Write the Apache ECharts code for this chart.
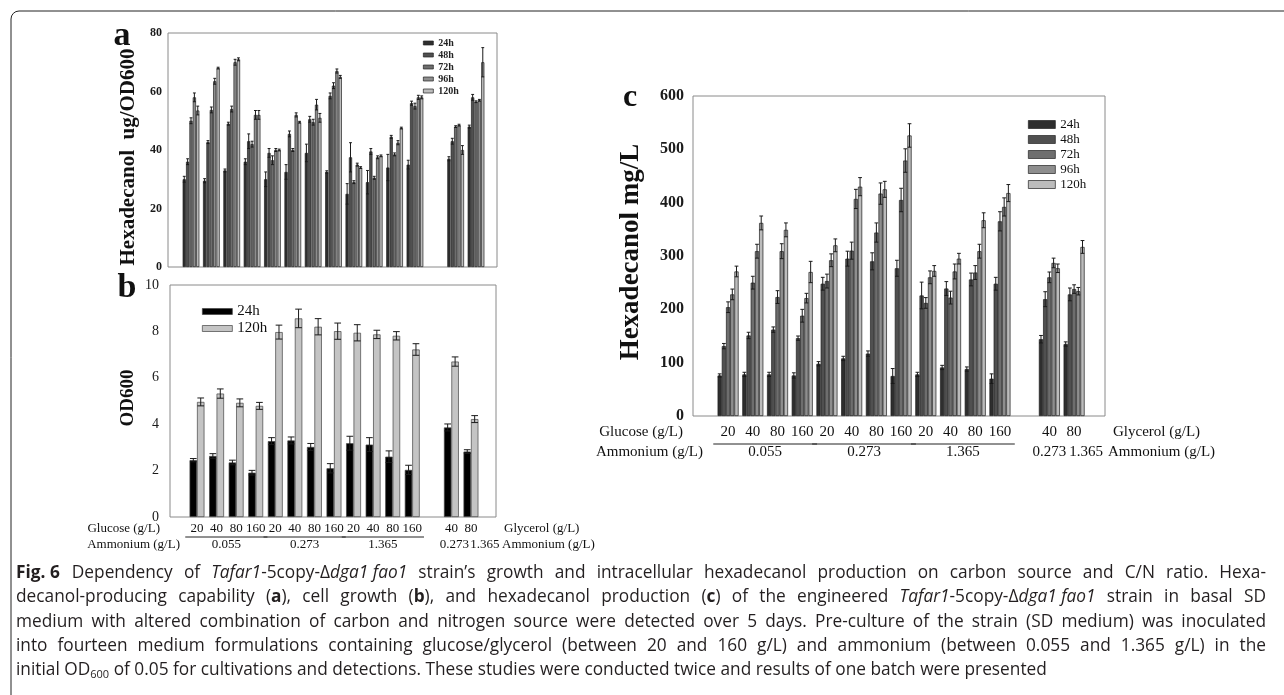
<!DOCTYPE html>
<html>
<head>
<meta charset="utf-8">
<script src="https://cdn.jsdelivr.net/npm/echarts@6/dist/echarts.min.js"></script>
<style>
  html, body { margin: 0; padding: 0; background: #fff; }
  #chart { width: 1284px; height: 695px; }
</style>
</head>
<body>
<div id="chart"></div>
<script>
// 15 slots on the x axis: 12 glucose media, an empty slot, 2 glycerol media
const glucoseLabels = ['20', '40', '80', '160', '20', '40', '80', '160', '20', '40', '80', '160', '', '40', '80']
const ammoniumLabels = ['0.055', '0.273', '1.365', '0.273', '1.365']
const ammoniumSpans = [[0, 3], [4, 7], [8, 11], [13, 13], [14, 14]]
const hours = ['24h', '48h', '72h', '96h', '120h']

// a: hexadecanol ug/OD600
const ugOD_24 = [30, 29.5, 33, 36, 30, 32.5, 39, 32.5, 25, 29, 34, 35, null, 37, 48]
const ugOD_48 = [36, 42.7, 49, 43, 39, 45.5, 50.5, 58.5, 37.5, 39.5, 44.5, 56, null, 43, 58]
const ugOD_72 = [50, 53.7, 54, 42, 36.5, 40, 49.5, 62, 29, 30.5, 38.5, 55, null, 48, 56.5]
const ugOD_96 = [58, 63.5, 70, 52, 40, 52, 55.5, 67, 35, 37.5, 42.5, 58, null, 48.5, 57]
const ugOD_120 = [53.5, 68, 71, 52, 40, 49.5, 51, 65, 34, 38, 47.5, 58, null, 40, 70]
const ugOD_24_err = [1, 0.7, 0.5, 1, 2.5, 2.5, 3, 0.4, 3.5, 4, 4.5, 1.5, null, 0.7, 0.5]
const ugOD_48_err = [1, 0.5, 0.5, 2.5, 1.5, 1, 1, 1, 5, 1, 0.5, 0.7, null, 1, 1]
const ugOD_72_err = [1, 1, 1, 1, 1.5, 0.5, 1, 1, 0.5, 0.5, 0.5, 1, null, 0.3, 0.3]
const ugOD_96_err = [1.5, 1, 1, 1.5, 0.5, 0.7, 1.8, 0.7, 0.5, 0.5, 0.7, 0.7, null, 0.3, 0.3]
const ugOD_120_err = [1.5, 0.3, 0.5, 1.5, 0.3, 0.3, 1.5, 0.5, 0.3, 0.3, 0.3, 0.5, null, 1.5, 5]

// b: OD600
const od_24 = [2.45, 2.63, 2.35, 1.91, 3.27, 3.3, 3.02, 2.1, 3.18, 3.12, 2.6, 2.03, null, 3.86, 2.82]
const od_120 = [4.96, 5.32, 4.92, 4.79, 7.97, 8.56, 8.2, 8.01, 7.94, 7.87, 7.81, 7.22, null, 6.7, 4.22]
const od_24_err = [0.07, 0.1, 0.1, 0.1, 0.15, 0.15, 0.15, 0.2, 0.3, 0.3, 0.25, 0.2, null, 0.15, 0.08]
const od_120_err = [0.17, 0.2, 0.17, 0.15, 0.3, 0.4, 0.35, 0.35, 0.35, 0.18, 0.18, 0.25, null, 0.2, 0.15]

// c: hexadecanol mg/L
const mgL_24 = [76, 78, 78, 76, 98, 108, 117, 75, 78, 91, 88, 70, null, 144, 135]
const mgL_48 = [131, 151, 162, 146, 248, 295, 290, 277, 226, 239, 256, 248, null, 219, 228]
const mgL_72 = [204, 250, 223, 188, 253, 310, 344, 405, 212, 222, 269, 365, null, 260, 238]
const mgL_96 = [228, 309, 309, 221, 292, 407, 417, 479, 260, 271, 309, 392, null, 287, 234]
const mgL_120 = [271, 362, 349, 270, 320, 430, 425, 526, 272, 295, 367, 418, null, 277, 317]
const mgL_24_err = [3, 4, 4, 5, 4, 4, 5, 14, 4, 4, 4, 9, null, 7, 4]
const mgL_48_err = [5, 6, 5, 4, 12, 14, 16, 15, 25, 13, 12, 12, null, 14, 12]
const mgL_72_err = [10, 12, 12, 12, 13, 16, 18, 22, 10, 12, 13, 18, null, 10, 8]
const mgL_96_err = [10, 13, 14, 9, 12, 18, 20, 22, 12, 14, 13, 17, null, 9, 7]
const mgL_120_err = [10, 13, 13, 20, 12, 17, 15, 22, 10, 10, 14, 16, null, 8, 12]

const serif = 'Liberation Serif'
const grays = ['#2e2e2e', '#505050', '#6e6e6e', '#8e8e8e', '#bcbcbc']

// bars plus symmetric error bars for one panel
const barPanel = (idx, names, values, errors, colors, border, catGap, gap) => {
  const list = []
  const n = values.length
  values.forEach((vals, i) => {
    list.push({
      name: names[i],
      type: 'bar',
      xAxisIndex: idx,
      yAxisIndex: idx,
      barGap: (gap * 100) + '%',
      barCategoryGap: (catGap * 100) + '%',
      itemStyle: { color: colors[i], borderColor: border, borderWidth: 0.7 },
      data: vals.map((v, k) => v == null ? null : [k, v]).filter(Boolean)
    })
    list.push({
      type: 'custom',
      xAxisIndex: idx,
      yAxisIndex: idx,
      z: 5,
      silent: true,
      encode: { x: 0, y: 1 },
      data: vals.map((v, k) => v == null ? null : [k, v, errors[i][k]]).filter(Boolean),
      renderItem: (params, api) => {
        const x = api.value(0)
        const v = api.value(1)
        const e = api.value(2)
        const band = api.size([1, 0])[0]
        const w = band * (1 - catGap) / (n + (n - 1) * gap)
        const total = n * w + (n - 1) * w * gap
        const cx = api.coord([x, v])[0] - total / 2 + i * w * (1 + gap) + w / 2
        const yTop = api.coord([x, v + e])[1]
        const yBot = api.coord([x, v - e])[1]
        const cap = Math.min(w * 0.9, 7) / 2
        const st = { stroke: '#1a1a1a', lineWidth: 1 }
        return {
          type: 'group',
          children: [
            { type: 'line', shape: { x1: cx, y1: yTop, x2: cx, y2: yBot }, style: st },
            { type: 'line', shape: { x1: cx - cap, y1: yTop, x2: cx + cap, y2: yTop }, style: st },
            { type: 'line', shape: { x1: cx - cap, y1: yBot, x2: cx + cap, y2: yBot }, style: st }
          ]
        }
      }
    })
  })
  return list
}

const gridA = { left: 168, top: 33, width: 329, height: 234 }
const gridB = { left: 170, top: 285, width: 326, height: 232 }
const gridC = { left: 693, top: 96, width: 412, height: 320 }

const frame = { show: true, borderColor: '#8a8a8a', borderWidth: 1, outerBoundsMode: 'none' }

const yAxisBase = (idx, max, interval, label) => ({
  gridIndex: idx,
  type: 'value',
  min: 0,
  max: max,
  interval: interval,
  axisLine: { show: false },
  axisTick: { show: false },
  splitLine: { show: false },
  axisLabel: Object.assign({ color: '#1a1a1a', fontFamily: serif }, label)
})

const legendItems = (names, colors, border) =>
  names.map((name, i) => ({ name, icon: 'rect', itemStyle: { color: colors[i], borderColor: border, borderWidth: 0.7 } }))

const option = {
  animation: false,
  backgroundColor: '#fff',
  grid: [
    Object.assign({}, gridA, frame),
    Object.assign({}, gridB, frame),
    Object.assign({}, gridC, frame)
  ],
  xAxis: [
    { gridIndex: 0, type: 'value', min: -1.13, max: 15.03, show: false },
    { gridIndex: 1, type: 'value', min: -1.38, max: 15.28, show: false },
    { gridIndex: 2, type: 'value', min: -1.42, max: 15.25, show: false }
  ],
  yAxis: [
    yAxisBase(0, 80, 20, { fontSize: 12, fontWeight: 'bold', margin: 6 }),
    yAxisBase(1, 10, 2, { fontSize: 14, margin: 11 }),
    yAxisBase(2, 600, 100, { fontSize: 16, fontWeight: 'bold', margin: 9 })
  ],
  legend: [
    {
      orient: 'vertical', left: 423, top: 38, padding: 0,
      itemWidth: 10, itemHeight: 4, itemGap: 2,
      textStyle: { fontFamily: serif, fontSize: 10, fontWeight: 'bold', color: '#222' },
      data: legendItems(hours, grays, '#222')
    },
    {
      orient: 'vertical', left: 202, top: 304, padding: 0,
      itemWidth: 30, itemHeight: 6, itemGap: 2,
      textStyle: { fontFamily: serif, fontSize: 15, color: '#111' },
      data: legendItems(['24h', '120h'], ['#000', '#c4c4c4'], '#444')
    },
    {
      orient: 'vertical', left: 1028, top: 118, padding: 0,
      itemWidth: 27, itemHeight: 8, itemGap: 2,
      textStyle: { fontFamily: serif, fontSize: 13, color: '#111' },
      data: legendItems(hours, grays, '#222')
    }
  ],
  series: [
    ...barPanel(0, hours,
      [ugOD_24, ugOD_48, ugOD_72, ugOD_96, ugOD_120],
      [ugOD_24_err, ugOD_48_err, ugOD_72_err, ugOD_96_err, ugOD_120_err],
      grays, '#222', 0.18, 0.06),
    ...barPanel(1, ['24h', '120h'], [od_24, od_120], [od_24_err, od_120_err],
      ['#000', '#c4c4c4'], '#444', 0.24, 0),
    ...barPanel(2, hours,
      [mgL_24, mgL_48, mgL_72, mgL_96, mgL_120],
      [mgL_24_err, mgL_48_err, mgL_72_err, mgL_96_err, mgL_120_err],
      grays, '#1e1e1e', 0.15, 0)
  ]
}

const chart = echarts.init(document.getElementById('chart'))
chart.setOption(option)

const txt = (text, x, y, size, extra) => ({
  type: 'text',
  x: x,
  y: y,
  silent: true,
  style: Object.assign({
    text: text,
    fill: '#111',
    fontFamily: serif,
    fontSize: size,
    align: 'center',
    verticalAlign: 'middle'
  }, extra || {})
})

// x label rows under panels b and c, placed on the axis scale
const axisLabels = (axisIdx, grid, rows, size, tailShift, rightGap) => {
  const px = v => chart.convertToPixel({ xAxisIndex: axisIdx }, v)
  const slot = px(1) - px(0)
  const right = grid.left + grid.width
  const els = []
  els.push(txt('Glucose (g/L)', grid.left - 10, rows[0], size, { align: 'right' }))
  els.push(txt('Ammonium (g/L)', grid.left + 10, rows[2], size, { align: 'right' }))
  glucoseLabels.forEach((label, k) => {
    if (label) els.push(txt(label, px(k), rows[0], size))
  })
  ammoniumLabels.forEach((label, k) => {
    const [a, b] = ammoniumSpans[k]
    const mid = (px(a) + px(b)) / 2
    if (b > a) {
      els.push(txt(label, mid, rows[2], size))
      els.push({
        type: 'line', silent: true,
        shape: { x1: px(a) - 0.6 * slot, y1: rows[1], x2: px(b) + 0.6 * slot, y2: rows[1] },
        style: { stroke: '#222', lineWidth: 1 }
      })
    } else {
      els.push(txt(label, mid + tailShift[k - 3], rows[2], size))
    }
  })
  els.push(txt('Glycerol (g/L)', right + 8, rows[0], size, { align: 'left' }))
  els.push(txt('Ammonium (g/L)', right + rightGap, rows[2], size, { align: 'left' }))
  return els
}

const bold = { fontWeight: 'bold' }
const vert = Math.PI / 2

// caption, justified to a common right edge like the printed figure
const captionSize = 17.3
const captionFamily = 'Open Sans'
const captionRight = 1266
const ink = '#231f20'
const richBase = {
  b: { fontWeight: 'bold', fontSize: captionSize, fontFamily: captionFamily, fill: ink },
  i: { fontStyle: 'italic', fontSize: captionSize, fontFamily: captionFamily, fill: ink },
  gap: { width: 12, fontSize: captionSize, fontFamily: captionFamily },
  sub: { fontFamily: captionFamily, fontSize: 11, verticalAlign: 'bottom', lineHeight: 11, fill: ink }
}
const captionLines = [
  '{b|Fig. 6}{gap| }Dependency of {i|Tafar1}-5copy-Δ{i|dga1 fao1} strain’s growth and intracellular hexadecanol production on carbon source and C/N ratio. Hexa-',
  'decanol-producing capability ({b|a}), cell growth ({b|b}), and hexadecanol production ({b|c}) of the engineered {i|Tafar1}-5copy-Δ{i|dga1 fao1} strain in basal SD',
  'medium with altered combination of carbon and nitrogen source were detected over 5 days. Pre-culture of the strain (SD medium) was inoculated',
  'into fourteen medium formulations containing glucose/glycerol (between 20 and 160 g/L) and ammonium (between 0.055 and 1.365 g/L) in the',
  'initial OD{sub|600} of 0.05 for cultivations and detections. These studies were conducted twice and results of one batch were presented'
]
const captionY = [573, 597.5, 622, 646, 670]

const measureCtx = document.createElement('canvas').getContext('2d')
const fontOf = s => `${s.fontStyle || 'normal'} ${s.fontWeight || 'normal'} ${s.fontSize}px "${s.fontFamily}"`
const plainStyle = { fontSize: captionSize, fontFamily: captionFamily }

const justifyLine = (line, k, x0) => {
  const re = /\{(\w+)\|([^}]*)\}/g
  const parts = []
  let last = 0
  let m
  while ((m = re.exec(line))) {
    if (m.index > last) parts.push({ style: null, text: line.slice(last, m.index) })
    parts.push({ style: m[1], text: m[2] })
    last = re.lastIndex
  }
  if (last < line.length) parts.push({ style: null, text: line.slice(last) })
  let natural = 0
  let spaces = 0
  parts.forEach(p => {
    const st = p.style ? richBase[p.style] : plainStyle
    measureCtx.font = fontOf(st)
    natural += st.width || measureCtx.measureText(p.text).width
    if (!p.style) spaces += (p.text.match(/ /g) || []).length
  })
  measureCtx.font = fontOf(plainStyle)
  const spaceW = measureCtx.measureText(' ').width
  const extra = Math.max(0, (captionRight - x0 - natural) / spaces)
  const key = 'sp' + k
  const text = parts.map(p => p.style ? `{${p.style}|${p.text}}` : p.text.replace(/ /g, `{${key}| }`)).join('')
  const rich = Object.assign({}, richBase)
  rich[key] = { width: spaceW + extra, fontSize: captionSize, fontFamily: captionFamily }
  return { text, rich }
}

const captionEls = captionLines.map((line, k) => {
  const justified = k < captionLines.length - 1
  const body = justified ? justifyLine(line, k, 16) : { text: line, rich: richBase }
  return {
    type: 'text', x: 16, y: captionY[k], silent: true,
    style: {
      text: body.text, rich: body.rich, fill: ink, align: 'left', verticalAlign: 'middle',
      lineHeight: 20, fontSize: captionSize, fontFamily: captionFamily
    }
  }
})

const graphic = [
  {
    type: 'rect', silent: true,
    shape: { x: 11, y: 11, width: 1300, height: 720, r: 8 },
    style: { fill: 'none', stroke: '#222', lineWidth: 1 }
  },
  txt('a', 122, 36, 34, bold),
  txt('b', 127, 288, 34, bold),
  txt('c', 630, 98, 32, bold),
  Object.assign(txt('Hexadecanol  ug/OD600', 129, 157, 21, bold), { rotation: vert }),
  Object.assign(txt('OD600', 128, 398, 19, bold), { rotation: vert }),
  Object.assign(txt('Hexadecanol mg/L', 631, 252, 27, bold), { rotation: vert }),
  ...axisLabels(1, gridB, [529, 537, 545], 13, [3, 14], 6),
  ...axisLabels(2, gridC, [432, 444, 452], 15, [0, 12], 3),
  ...captionEls
]

chart.setOption({ graphic: graphic })
window.addEventListener('resize', () => chart.resize())
</script>
</body>
</html>
